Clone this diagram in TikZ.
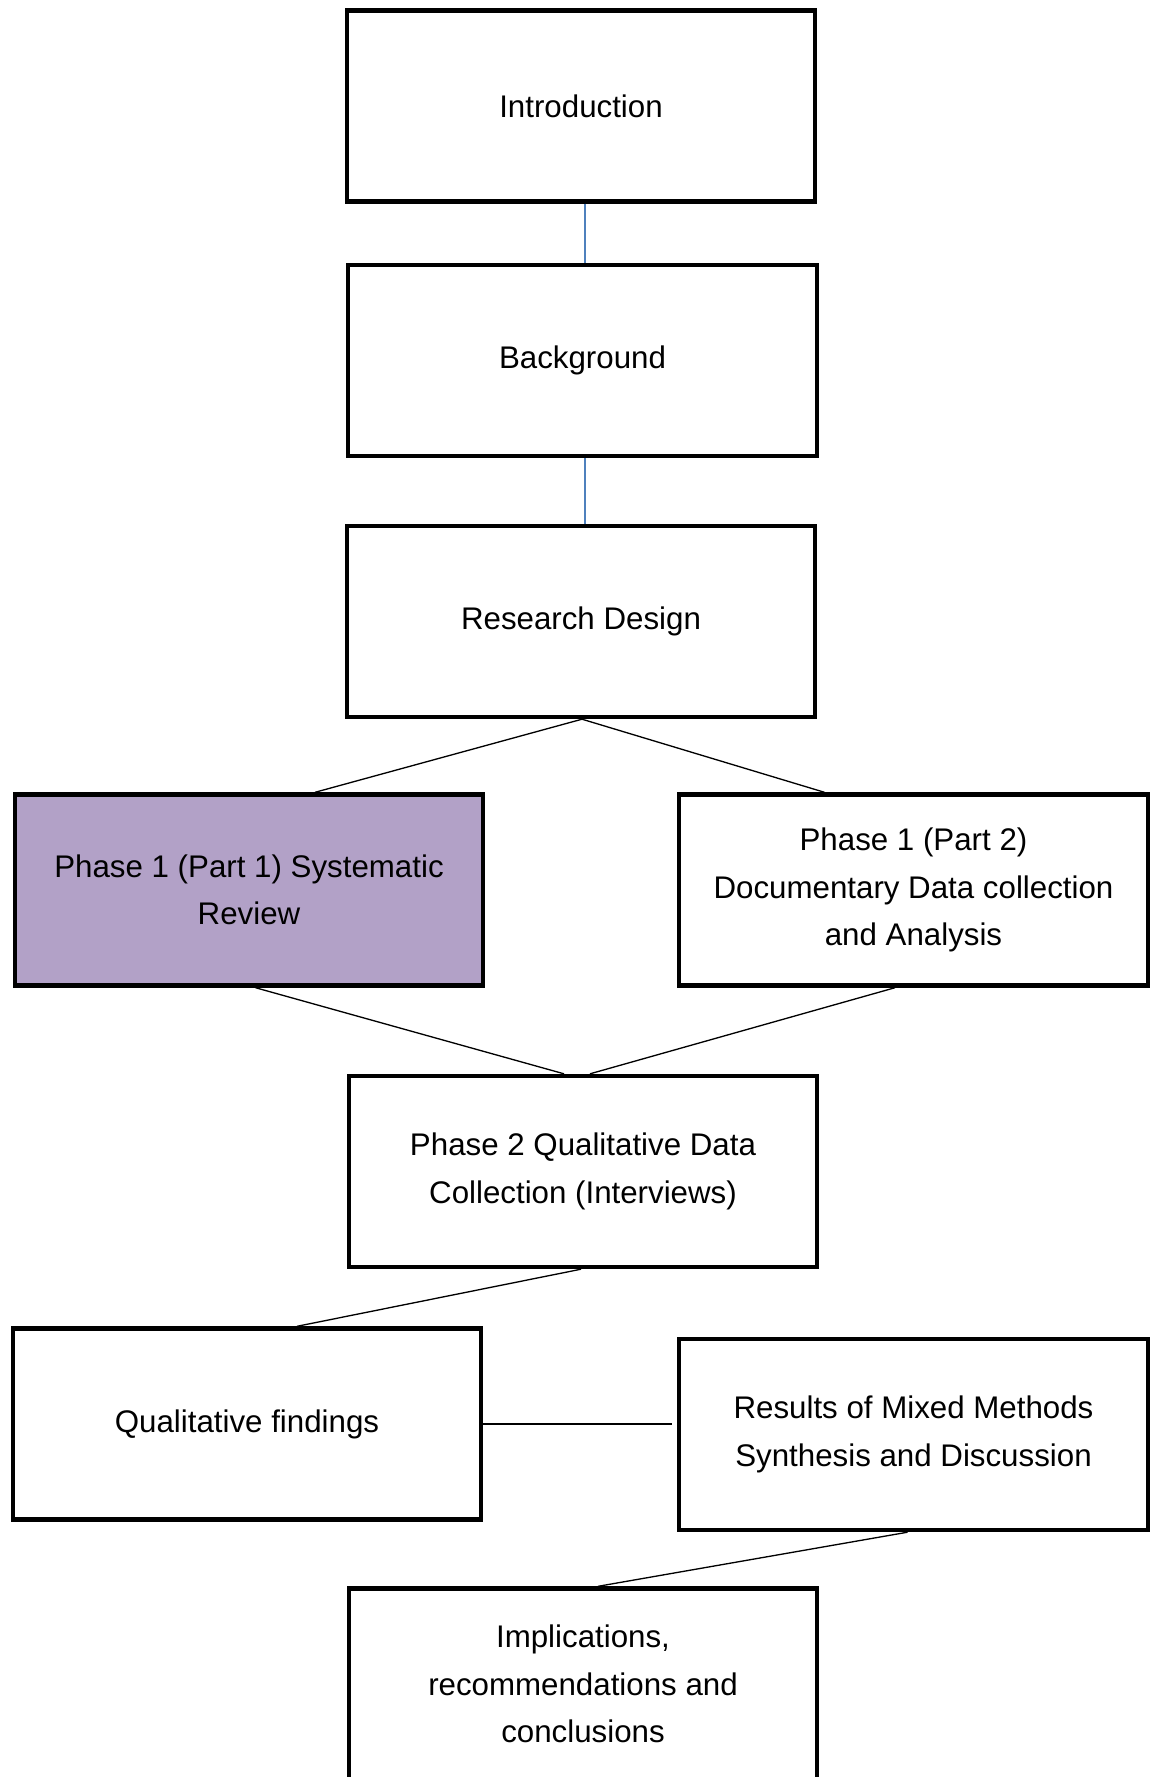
\documentclass[tikz,border=0pt]{standalone}
\usepackage{fontspec}
\setmainfont{Liberation Sans}
\usepackage{xcolor}
\definecolor{linkblue}{HTML}{4F81BD}
\definecolor{lilac}{HTML}{B2A1C7}

\begin{document}
\begin{tikzpicture}[
box/.style={draw,line width=2.5pt,minimum width=9.37cm,minimum height=3.82cm,inner sep=0pt,
align=center,font=\fontsize{17.8}{27}\selectfont},
link/.style={line width=0.75pt},
bluelink/.style={line width=0.9pt,draw=linkblue}]
\clip(0,0)rectangle(23.18,-35.54);
\useasboundingbox(0,0)rectangle(23.18,-35.54);
\node[box](intro)at(11.62,-2.12){Introduction};
\node[box](backg)at(11.65,-7.21){Background};
\node[box](design)at(11.62,-12.43){Research Design};
\node[box,fill=lilac](phaseA)at(4.98,-17.80){Phase 1 (Part 1) Systematic\\Review};
\node[box](phaseB)at(18.27,-17.80){Phase 1 (Part 2)\\Documentary Data collection\\and Analysis};
\node[box](phaseT)at(11.66,-23.43){Phase 2 Qualitative Data\\Collection (Interviews)};
\node[box](qualf)at(4.94,-28.48){Qualitative findings};
\node[box](results)at(18.27,-28.69){Results of Mixed Methods\\Synthesis and Discussion};
\node[box](implic)at(11.66,-33.68){Implications,\\recommendations and\\conclusions};
\draw[bluelink]([xshift=0.08cm]intro.south)--([xshift=0.05cm]backg.north);
\draw[bluelink]([xshift=0.05cm]backg.south)--([xshift=0.08cm]design.north);
\draw[link]([xshift=0.02cm]design.south)--([xshift=1.32cm]phaseA.north);
\draw[link]([xshift=0.02cm]design.south)--([xshift=-1.78cm]phaseB.north);
\draw[link]([xshift=0.13cm]phaseA.south)--([xshift=-0.38cm]phaseT.north);
\draw[link]([xshift=-0.37cm]phaseB.south)--([xshift=0.14cm]phaseT.north);
\draw[link]([xshift=-0.04cm]phaseT.south)--([xshift=1.0cm]qualf.north);
\draw[link](qualf.east)--([xshift=-3pt]results.west|-qualf.east);
\draw[link]([xshift=-0.12cm]results.south)--([xshift=0.3cm]implic.north);
\end{tikzpicture}
\end{document}
